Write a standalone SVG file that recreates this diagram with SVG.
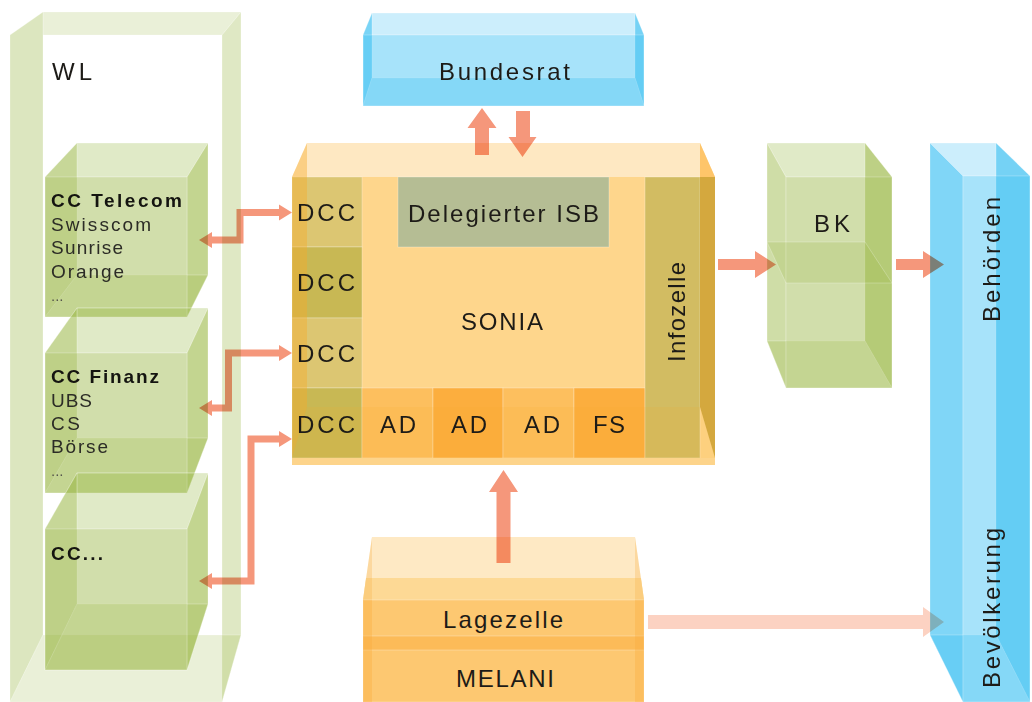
<svg xmlns="http://www.w3.org/2000/svg" width="1032" height="702" viewBox="0 0 1032 702">
<defs>
<style>
text{font-family:"Liberation Sans",Arial,Helvetica,sans-serif;fill:#1d1b17}
.lg{font-size:24px}
.sm{font-size:19px;fill:#2c2c26}
.hd{font-size:19px;font-weight:bold;fill:#141410}
.dots{font-size:15px;fill:#55554c}
.g{fill:#96b43c;stroke:#fff;stroke-opacity:.3;stroke-width:.8}
.bl{fill:#28b9f0;stroke:#fff;stroke-opacity:.3;stroke-width:.8}
.fB{fill-opacity:.095}.fT{fill-opacity:.215}.fF{fill-opacity:.37}.fL{fill-opacity:.397}.fR{fill-opacity:.525}.fO{fill-opacity:.3}
.w1{fill-opacity:.2}.w2{fill-opacity:.33}.w3{fill-opacity:.3}
.bB{fill-opacity:.095}.bT{fill-opacity:.156}.bF{fill-opacity:.35}.bL{fill-opacity:.55}.bR{fill-opacity:.573}.bO{fill-opacity:.343}
.cell{stroke:#fff;stroke-opacity:.35;stroke-width:.8}
.arr{fill:#f5977b}
.arrl{fill:#fcd2c2}
.bent{fill:none;stroke:#f5977b;stroke-width:7;stroke-linejoin:miter}
</style>
<marker id="ah" markerUnits="userSpaceOnUse" markerWidth="13" markerHeight="16" refX="0" refY="8" orient="auto-start-reverse" overflow="visible"><path d="M0,0 L13,8 L0,16 z" fill="#f5977b"/></marker>
</defs>

<g id="wl">
<polygon class="g w1" points="43,12 241,12 222,35 43,35"/>
<polygon class="g w2" points="10,35 43,12 43,635 10,702"/>
<polygon class="g w3" points="222,35 241,12 241,635 222,702"/>
<polygon class="g w1" points="43,635 241,635 222,702 10,702"/>
<text class="lg" x="52" y="80" textLength="40">WL</text>
</g>

<g id="cc-telecom">
<rect class="g fB" x="77" y="143" width="131" height="132"/>
<polygon class="g fT" points="77,143 208,143 187,177 45,177"/>
<polygon class="g fL" points="77,143 45,177 45,317 77,275"/>
<polygon class="g fR" points="208,143 187,177 187,317 208,275"/>
<polygon class="g fO" points="77,275 208,275 187,317 45,317"/>
<rect class="g fF" x="45" y="177" width="142" height="140"/>
<text class="hd" x="51" y="207" textLength="131">CC Telecom</text>
<text class="sm" x="51" y="231" textLength="100">Swisscom</text>
<text class="sm" x="51" y="254" textLength="72">Sunrise</text>
<text class="sm" x="51" y="278" textLength="73">Orange</text>
<text class="dots" x="51" y="301">...</text>
</g>

<g id="cc-finanz">
<rect class="g fB" x="77" y="308" width="131" height="130"/>
<polygon class="g fT" points="77,308 208,308 187,353 45,353"/>
<polygon class="g fL" points="77,308 45,353 45,493 77,438"/>
<polygon class="g fR" points="208,308 187,353 187,493 208,438"/>
<polygon class="g fO" points="77,438 208,438 187,493 45,493"/>
<rect class="g fF" x="45" y="353" width="142" height="140"/>
<text class="hd" x="51" y="383" textLength="108">CC Finanz</text>
<text class="sm" x="51" y="407" textLength="41">UBS</text>
<text class="sm" x="51" y="430" textLength="29">CS</text>
<text class="sm" x="51" y="453" textLength="57">Börse</text>
<text class="dots" x="51" y="476">...</text>
</g>

<g id="cc-other">
<rect class="g fB" x="77" y="473" width="131" height="131"/>
<polygon class="g fT" points="77,473 208,473 187,529 45,529"/>
<polygon class="g fL" points="77,473 45,529 45,670 77,604"/>
<polygon class="g fR" points="208,473 187,529 187,670 208,604"/>
<polygon class="g fO" points="77,604 208,604 187,670 45,670"/>
<rect class="g fF" x="45" y="529" width="142" height="141"/>
<text class="hd" x="51" y="560" textLength="52">CC...</text>
</g>

<g id="bundesrat">
<rect class="bl bB" x="372" y="13" width="263" height="65"/>
<polygon class="bl bT" points="372,13 635,13 644,35 363,35"/>
<polygon class="bl bL" points="372,13 363,35 363,106 372,78"/>
<polygon class="bl bR" points="635,13 644,35 644,106 635,78"/>
<polygon class="bl bO" points="372,78 635,78 644,106 363,106"/>
<rect class="bl bF" x="363" y="35" width="281" height="71"/>
<text class="lg" x="504.5" y="80" text-anchor="middle" textLength="131">Bundesrat</text>
</g>

<g id="sonia">
<polygon fill="#fee8c2" points="307,143 700,143 715,177 292,177"/>
<rect fill="#fed68c" x="292" y="177" width="423" height="281"/>
<rect class="cell" fill="#b5bd94" x="398" y="177" width="211" height="70"/>
<rect class="cell" fill="#dcc672" x="292" y="177" width="70" height="70"/>
<rect class="cell" fill="#c8b854" x="292" y="247" width="70" height="71"/>
<rect class="cell" fill="#dcc672" x="292" y="318" width="70" height="70"/>
<rect class="cell" fill="#c8b854" x="292" y="388" width="70" height="70"/>
<rect class="cell" fill="#fdbf5e" x="362" y="388" width="71" height="70"/>
<rect class="cell" fill="#fcae3e" x="433" y="388" width="70" height="70"/>
<rect class="cell" fill="#fdbf5e" x="503" y="388" width="71" height="70"/>
<rect class="cell" fill="#fcae3e" x="574" y="388" width="71" height="70"/>
<rect class="cell" fill="#d2bc62" x="645" y="177" width="55" height="281"/>
<polygon fill="#f6a828" fill-opacity=".13" points="307,407 700,407 715,458 292,458"/>
<polygon fill="#f7aa28" fill-opacity=".4" points="292,177 307,143 307,407 292,458"/>
<polygon fill="#d4a83e" points="700,177 715,177 715,458 700,407"/>
<polygon fill="#fec56a" points="700,143 715,177 700,177"/>
<rect fill="#fdd48b" x="292" y="458" width="423" height="7"/>
<text class="lg" x="297" y="221" textLength="58">DCC</text>
<text class="lg" x="297" y="291" textLength="58">DCC</text>
<text class="lg" x="297" y="362" textLength="58">DCC</text>
<text class="lg" x="297" y="433" textLength="58">DCC</text>
<text class="lg" x="503.5" y="222" text-anchor="middle" textLength="191">Delegierter ISB</text>
<text class="lg" x="502" y="330" text-anchor="middle" textLength="82">SONIA</text>
<text class="lg" x="398" y="433" text-anchor="middle" textLength="36">AD</text>
<text class="lg" x="469" y="433" text-anchor="middle" textLength="36">AD</text>
<text class="lg" x="542" y="433" text-anchor="middle" textLength="36">AD</text>
<text class="lg" x="609" y="433" text-anchor="middle" textLength="32">FS</text>
<text class="lg" x="685" y="312" text-anchor="middle" textLength="100" transform="rotate(-90 685 312)">Infozelle</text>
</g>

<g id="bk">
<rect class="g fB" x="767" y="143" width="98" height="198"/>
<polygon class="g fT" points="767,143 865,143 892,177 786,177"/>
<polygon class="g fL" points="767,143 786,177 786,388 767,341"/>
<polygon class="g fR" points="865,143 892,177 892,388 865,341"/>
<polygon class="g fO" points="767,341 865,341 892,388 786,388"/>
<rect class="g fF" x="786" y="177" width="106" height="211"/>
<polygon class="g" fill-opacity=".2" points="767,242 865,242 892,283 786,283"/>
<text class="lg" x="832" y="232" text-anchor="middle" textLength="36">BK</text>
</g>

<g id="behoerden">
<rect class="bl bB" x="930" y="143" width="66" height="492"/>
<polygon class="bl bT" points="930,143 996,143 1030,176 963,176"/>
<polygon class="bl bL" points="930,143 963,176 963,702 930,635"/>
<polygon class="bl bR" points="996,143 1030,176 1030,702 996,635"/>
<polygon class="bl bO" points="930,635 996,635 1030,702 963,702"/>
<rect class="bl bF" x="963" y="176" width="67" height="526"/>
<text class="lg" x="1000" y="259.5" text-anchor="middle" textLength="125" transform="rotate(-90 1000 259.5)">Behörden</text>
<text class="lg" x="1000" y="608" text-anchor="middle" textLength="160" transform="rotate(-90 1000 608)">Bevölkerung</text>
</g>

<g id="melani">
<polygon fill="#fee9c4" points="372,537 635,537 644,600 363,600"/>
<polygon fill="#fdd995" points="366,578 641,578 644,600 363,600"/>
<polygon fill="#f9b448" fill-opacity=".3" points="363,600 372,537 372,600"/>
<polygon fill="#f9b448" fill-opacity=".3" points="644,600 635,537 635,600"/>
<rect class="cell" fill="#fdc871" x="363" y="600" width="281" height="102"/>
<rect class="cell" fill="#fcbb58" x="363" y="636" width="281" height="14"/>
<rect fill="#f8ac3c" fill-opacity=".35" x="363" y="600" width="9" height="102"/>
<rect fill="#f8ac3c" fill-opacity=".35" x="635" y="600" width="9" height="102"/>
<text class="lg" x="503" y="628" text-anchor="middle" textLength="120">Lagezelle</text>
<text class="lg" x="505" y="687" text-anchor="middle" textLength="98">MELANI</text>
</g>

<g id="connectors" style="mix-blend-mode:multiply">
<path class="bent" d="M279,212.5 H240 V240 H212" marker-start="url(#ah)" marker-end="url(#ah)"/>
<path class="bent" d="M279,353 H228.5 V408 H212" marker-start="url(#ah)" marker-end="url(#ah)"/>
<path class="bent" d="M279,439 H251 V581 H212" marker-start="url(#ah)" marker-end="url(#ah)"/>
<polygon class="arr" points="482,108 496.5,128 489,128 489,155 475,155 475,128 467.5,128"/>
<polygon class="arr" points="516,111 530,111 530,137 536.5,137 522.5,157 508.5,137 516,137"/>
<polygon class="arr" points="503.5,470 518,492 510.5,492 510.5,563 496.5,563 496.5,492 489,492"/>
<polygon class="arr" points="718,259 755,259 755,251 776,264.5 755,278 755,270 718,270"/>
<polygon class="arr" points="896,259 923,259 923,251 944,264.5 923,278 923,270 896,270"/>
<polygon class="arrl" points="648,615 923,615 923,607 944,622 923,637 923,629 648,629"/>
</g>
</svg>
